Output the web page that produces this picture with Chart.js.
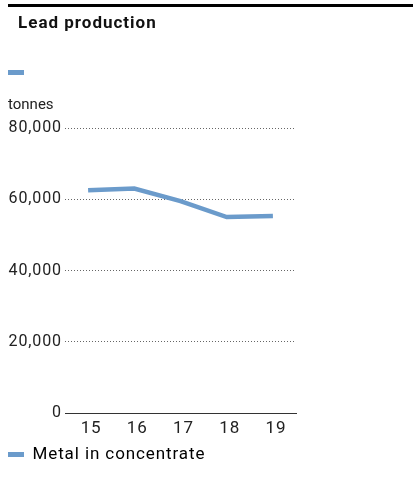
<!DOCTYPE html>
<html><head><meta charset="utf-8">
<style>html,body{margin:0;padding:0;background:#fff}#wrap{position:relative;width:413px;height:486px}</style>
<script src="https://cdn.jsdelivr.net/npm/chart.js@4"></script>
</head><body><div id="wrap"><canvas id="c" width="413" height="486"></canvas></div>
<script>
const categories = ['15', '16', '17', '18', '19'];
const metalInConcentrate = [62500, 63000, 59500, 55000, 55300];
const yTickValues = [0, 20000, 40000, 60000, 80000];
const seriesLabel = 'Metal in concentrate';
const titleText = 'Lead production';
const unitText = 'tonnes';

const lineColor = '#6b9bcb';
const FONT = 'Roboto, "DejaVu Sans", sans-serif';
const SPACING = '0.9px';

const spacing = {
  id: 'spacing',
  beforeUpdate(chart) { chart.ctx.letterSpacing = SPACING; },
  beforeLayout(chart) { chart.ctx.letterSpacing = SPACING; },
  beforeDraw(chart) { chart.ctx.letterSpacing = SPACING; }
};

const decor = {
  id: 'decor',
  afterDraw(chart) {
    const ctx = chart.ctx;
    ctx.save();
    ctx.fillStyle = '#000';
    ctx.fillRect(8, 4, 405, 3);
    ctx.fillStyle = '#111';
    ctx.letterSpacing = '1px';
    ctx.font = 'bold 17px ' + FONT;
    ctx.textBaseline = 'middle';
    ctx.textAlign = 'left';
    ctx.fillText(titleText, 18, 24);
    ctx.fillStyle = lineColor;
    ctx.fillRect(8, 70, 16, 5);
    ctx.fillStyle = '#222';
    ctx.letterSpacing = '0px';
    ctx.font = '15px ' + FONT;
    ctx.fillText(unitText, 8, 105);
    ctx.restore();
  }
};

new Chart(document.getElementById('c'), {
  type: 'line',
  data: {
    labels: categories,
    datasets: [{
      label: seriesLabel,
      data: metalInConcentrate,
      borderColor: lineColor,
      backgroundColor: lineColor,
      borderWidth: 4.5,
      pointRadius: 0,
      tension: 0,
      fill: false
    }]
  },
  options: {
    responsive: false,
    animation: false,
    layout: { padding: { left: 8, right: 117, top: 128, bottom: 13 } },
    plugins: {
      tooltip: { enabled: false },
      title: { display: false },
      legend: {
        display: true,
        position: 'bottom',
        align: 'start',
        labels: {
          boxWidth: 16, boxHeight: 5, padding: 0,
          color: '#222',
          font: { family: FONT, size: 17 },
          generateLabels(chart) {
            return chart.data.datasets.map((d, i) => ({
              text: d.label, fillStyle: d.borderColor, strokeStyle: d.borderColor,
              lineWidth: 0, datasetIndex: i, hidden: false
            }));
          }
        }
      }
    },
    scales: {
      x: {
        offset: true,
        grid: { display: false, drawTicks: false },
        border: { display: true, color: '#333', width: 1 },
        ticks: { color: '#222', font: { family: FONT, size: 17 }, padding: 6, labelOffset: 3 },
        afterFit(s) { s.height = 33; }
      },
      y: {
        min: 0, max: 80000,
        afterBuildTicks(s) { s.ticks = yTickValues.map(v => ({ value: v })); },
        grid: {
          drawTicks: false,
          color: ctx => ctx.tick && ctx.tick.value === 0 ? 'rgba(0,0,0,0)' : '#666',
          lineWidth: 1
        },
        border: { display: false, dash: [1, 2] },
        ticks: {
          color: '#222', font: { family: FONT, size: 16 }, padding: 3,
          callback: v => v.toLocaleString('en-US')
        },
        afterFit(s) { s.width = 57; }
      }
    }
  },
  plugins: [spacing, decor]
});
</script></body></html>
